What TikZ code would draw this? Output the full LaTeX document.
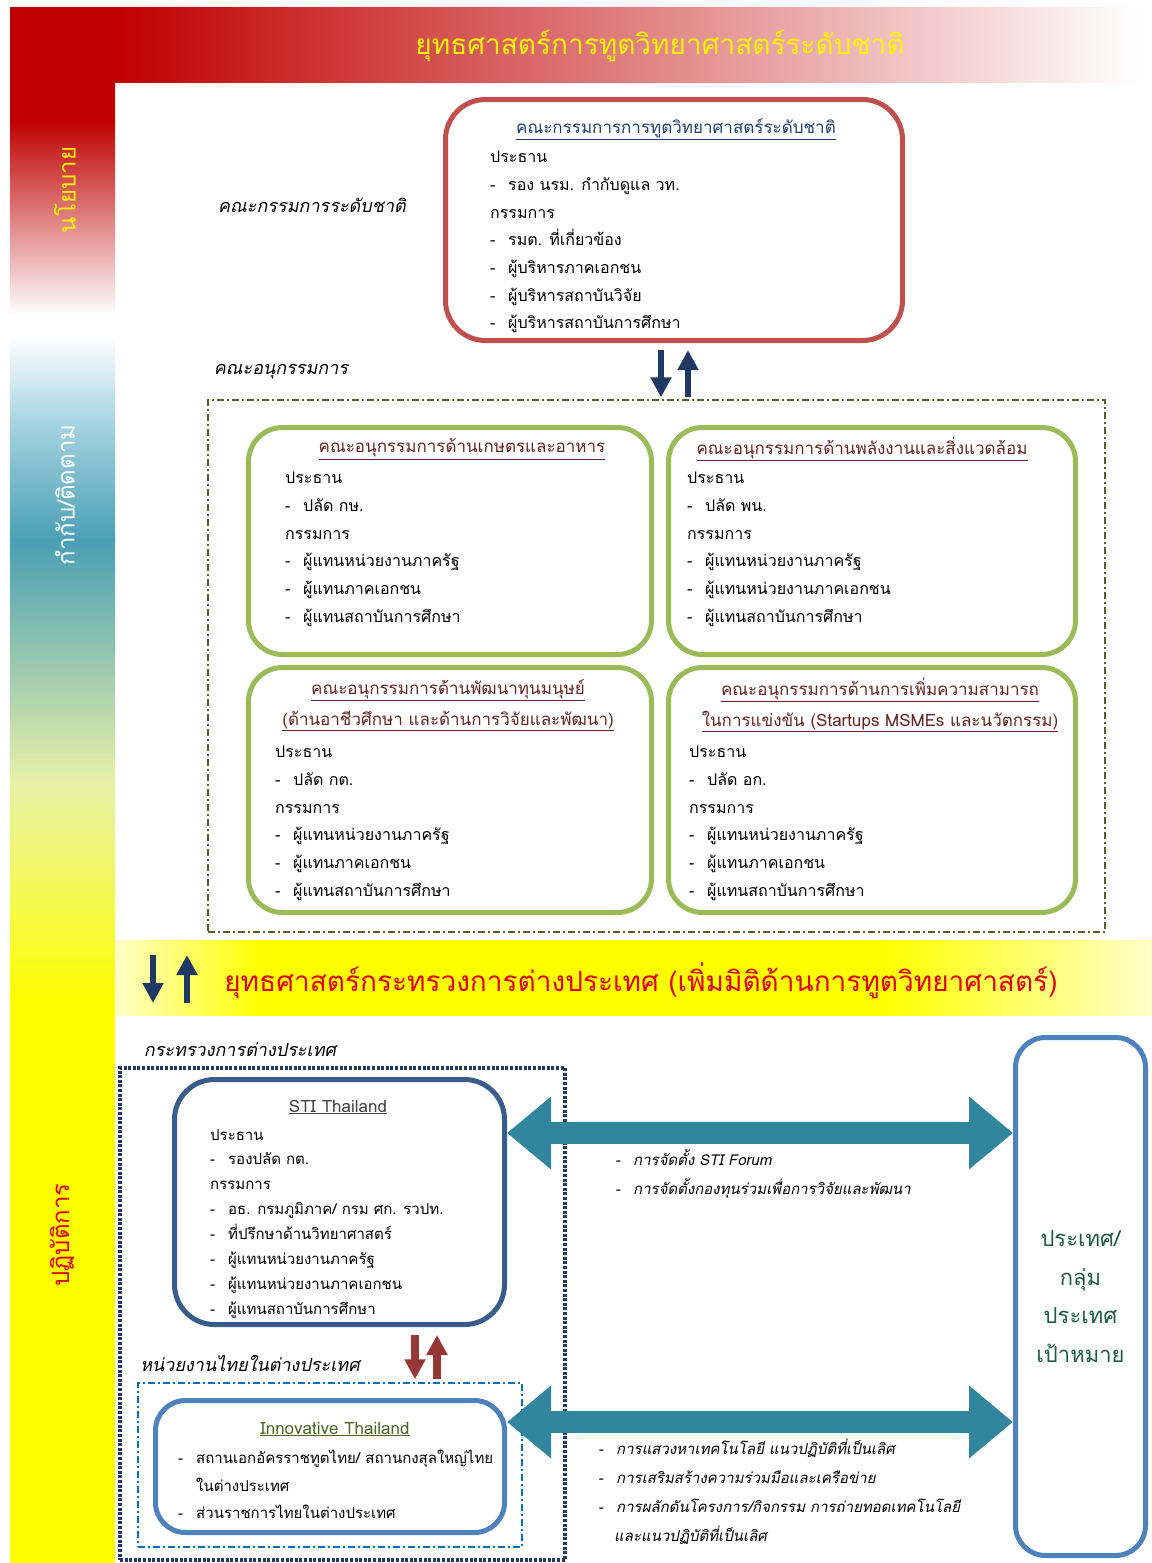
\documentclass[tikz,border=0pt]{standalone}
\usepackage{fontspec}
\setmainfont{Loma}[Script=Thai]
\newfontfamily\thaiit[Script=Thai,FakeSlant=0.2]{Loma}
\usetikzlibrary{arrows.meta,positioning,calc}

\definecolor{barred}{HTML}{C00000}
\definecolor{sideblue}{HTML}{A8D5E2}
\definecolor{sideteal}{HTML}{4A9FB5}
\definecolor{sidepale}{HTML}{E6F0A8}
\definecolor{bandpale}{HTML}{FFFFC8}
\definecolor{bandred}{HTML}{E00000}
\definecolor{boxred}{HTML}{C0504D}
\definecolor{boxgreen}{HTML}{9BBB59}
\definecolor{boxnavy}{HTML}{385D8A}
\definecolor{boxblue}{HTML}{4F81BD}
\definecolor{arrownavy}{HTML}{1F3864}
\definecolor{arrowred}{HTML}{953735}
\definecolor{arrowteal}{HTML}{31859C}
\definecolor{olivedash}{HTML}{4F6228}
\definecolor{dashblue}{HTML}{0070C0}
\definecolor{ttlblue}{HTML}{1F3F6F}
\definecolor{ttlred}{HTML}{632523}
\definecolor{ttlgray}{HTML}{404040}
\definecolor{goalgreen}{HTML}{1D5B47}

\newcommand{\itm}{\makebox[18pt][l]{-}}

\begin{document}
\begin{tikzpicture}[x=1pt, y=-1pt,
    box/.style={draw, line width=5pt, inner sep=0pt},
    redbox/.style={box, draw=boxred, rounded corners=40pt},
    greenbox/.style={box, draw=boxgreen, rounded corners=34pt},
    navybox/.style={box, draw=boxnavy, rounded corners=40pt},
    bluebox/.style={box, draw=boxblue, rounded corners=30pt},
    olivebox/.style={draw=olivedash, line width=1.4pt, dash pattern=on 7pt off 3pt on 2pt off 3pt, inner sep=0pt},
    abroadbox/.style={draw=dashblue, line width=1.4pt, dash pattern=on 7pt off 3pt on 2pt off 3pt, inner sep=0pt},
    ttl/.style={align=center, font=\fontsize{17}{31}\selectfont},
    body/.style={anchor=north west, align=left, inner sep=0pt, font=\fontsize{16}{27.7}\selectfont},
    lbl/.style={font=\thaiit\fontsize{18}{22}\selectfont},
    note/.style={anchor=north west, align=left, inner sep=0pt, font=\thaiit\fontsize{15}{29}\selectfont},
    side/.style={rotate=90, font=\fontsize{24}{26}\selectfont},
    updown/.style={line width=6pt, -{Triangle[length=20pt,width=20pt]}},
    bigarrow/.style={draw=arrowteal, line width=22pt, {Triangle[length=44pt,width=70pt]}-{Triangle[length=44pt,width=70pt]}}
]
\useasboundingbox (0,0) rectangle (1151,1563);

% colour bands
\foreach \ya/\yb/\ca/\cb in {8/120/barred/barred, 120/315/barred/white, 315/335/white/white, 335/420/white/sideblue, 420/540/sideblue/sideteal, 540/780/sideteal/sidepale, 780/1000/sidepale/yellow, 1000/1563/yellow/yellow}
    \shade[top color=\ca, bottom color=\cb] (10,\ya) rectangle (115,\yb+1);
\shade[left color=barred, right color=white] (114,8) rectangle (1140,82);
\foreach \xa/\xb/\ca/\cb in {115/260/bandpale/yellow, 260/880/yellow/yellow, 880/1151/yellow/bandpale}
    \shade[left color=\ca, right color=\cb] (\xa,940) rectangle (\xb+1,1015);

\node[side, text=yellow] (sidepolicy) at (65,190) {นโยบาย};
\node[side, text=white] (sidemonitor) at (65,495) {กำกับ/ติดตาม};
\node[side, text=bandred] (sideaction) at (62,1235) {ปฏิบัติการ};
\node[text=yellow, font=\fontsize{28}{30}\selectfont] (bannerttl) at (660,46) {ยุทธศาสตร์การทูตวิทยาศาสตร์ระดับชาติ};

% national committee
\node[lbl] (lblnatl) at (312,205) {คณะกรรมการระดับชาติ};
\node[redbox, minimum width=457pt, minimum height=241pt] (natl) at (674,220) {};
\node[ttl, text=ttlblue] (natlttl) at (676,129) {\underline{คณะกรรมการการทูตวิทยาศาสตร์ระดับชาติ}};
\node[body] (natlbody) at (490,151) {ประธาน\\\itm รอง นรม. กำกับดูแล วท.\\กรรมการ\\\itm รมต. ที่เกี่ยวข้อง\\\itm ผู้บริหารภาคเอกชน\\\itm ผู้บริหารสถาบันวิจัย\\\itm ผู้บริหารสถาบันการศึกษา};

% sub-committees
\node[lbl] (lblsub) at (281,372) {คณะอนุกรรมการ};
\node[olivebox, minimum width=897pt, minimum height=532pt] (sub) at (656.5,666) {};
\draw[updown, arrownavy, shorten <=7pt, shorten >=2pt] ([xshift=-13pt]natl.south) -- ([xshift=-13pt]natl.south |- sub.north);
\draw[updown, arrownavy, shorten <=2pt, shorten >=7pt] ([xshift=14pt]natl.south |- sub.north) -- ([xshift=14pt]natl.south);

\node[greenbox, minimum width=403pt, minimum height=227pt] (agri) at (450,541) {};
\node[ttl, text=ttlred] (agrittl) at (462,449) {\underline{คณะอนุกรรมการด้านเกษตรและอาหาร}};
\node[body] (agribody) at (285,472) {ประธาน\\\itm ปลัด กษ.\\กรรมการ\\\itm ผู้แทนหน่วยงานภาครัฐ\\\itm ผู้แทนภาคเอกชน\\\itm ผู้แทนสถาบันการศึกษา};

\node[greenbox, minimum width=407pt, minimum height=227pt] (energy) at (872,541) {};
\node[ttl, text=ttlred] (energyttl) at (862,449) {\underline{คณะอนุกรรมการด้านพลังงานและสิ่งแวดล้อม}};
\node[body] (energybody) at (687,472) {ประธาน\\\itm ปลัด พน.\\กรรมการ\\\itm ผู้แทนหน่วยงานภาครัฐ\\\itm ผู้แทนหน่วยงานภาคเอกชน\\\itm ผู้แทนสถาบันการศึกษา};

\node[greenbox, minimum width=403pt, minimum height=245pt] (human) at (450,790) {};
\node[ttl, text=ttlred] (humanttl) at (448,705) {\underline{คณะอนุกรรมการด้านพัฒนาทุนมนุษย์}\\\underline{(ด้านอาชีวศึกษา และด้านการวิจัยและพัฒนา)}};
\node[body] (humanbody) at (275,746) {ประธาน\\\itm ปลัด กต.\\กรรมการ\\\itm ผู้แทนหน่วยงานภาครัฐ\\\itm ผู้แทนภาคเอกชน\\\itm ผู้แทนสถาบันการศึกษา};

\node[greenbox, minimum width=407pt, minimum height=245pt] (compete) at (872,790) {};
\node[ttl, text=ttlred] (competettl) at (880,705) {\underline{คณะอนุกรรมการด้านการเพิ่มความสามารถ}\\\underline{ในการแข่งขัน (Startups MSMEs และนวัตกรรม)}};
\node[body] (competebody) at (689,746) {ประธาน\\\itm ปลัด อก.\\กรรมการ\\\itm ผู้แทนหน่วยงานภาครัฐ\\\itm ผู้แทนภาคเอกชน\\\itm ผู้แทนสถาบันการศึกษา};

% ministry band
\node[text=bandred, font=\fontsize{28}{30}\selectfont] (bandttl) at (641,981) {ยุทธศาสตร์กระทรวงการต่างประเทศ (เพิ่มมิติด้านการทูตวิทยาศาสตร์)};
\coordinate (bandhi) at (170,955);
\coordinate (bandlo) at (170,1003);
\draw[updown, arrownavy] ([xshift=-17pt]bandhi) -- ([xshift=-17pt]bandlo);
\draw[updown, arrownavy] ([xshift=17pt]bandlo) -- ([xshift=17pt]bandhi);

% operations
\node[lbl] (lblmfa) at (240,1050) {กระทรวงการต่างประเทศ};
\node[draw=arrownavy, line width=3.5pt, dash pattern=on 3pt off 1.6pt, inner sep=0pt, minimum width=445pt, minimum height=492pt] (mfa) at (342.5,1314) {};
\node[navybox, minimum width=330pt, minimum height=245pt] (sti) at (339.5,1202) {};
\node[ttl, text=ttlgray] (stittl) at (338,1107) {\underline{STI Thailand}};
\node[body, font=\fontsize{15}{24.9}\selectfont] (stibody) at (210,1129) {ประธาน\\\itm รองปลัด กต.\\กรรมการ\\\itm อธ. กรมภูมิภาค/ กรม ศก. รวปท.\\\itm ที่ปรึกษาด้านวิทยาศาสตร์\\\itm ผู้แทนหน่วยงานภาครัฐ\\\itm ผู้แทนหน่วยงานภาคเอกชน\\\itm ผู้แทนสถาบันการศึกษา};

\node[lbl] (lblabroad) at (250,1363) {หน่วยงานไทยในต่างประเทศ};
\node[abroadbox, minimum width=384pt, minimum height=164pt] (abroad) at (330,1465) {};
\draw[updown, arrowred, line width=8pt, shorten <=8pt, shorten >=3pt] ([xshift=75.5pt]sti.south) -- ([xshift=75.5pt]sti.south |- abroad.north);
\draw[updown, arrowred, line width=8pt, shorten <=3pt, shorten >=8pt] ([xshift=97.5pt]sti.south |- abroad.north) -- ([xshift=97.5pt]sti.south);

\node[bluebox, minimum width=349pt, minimum height=132pt] (inno) at (330,1466.5) {};
\node[ttl, text=olivedash] (innottl) at (335,1429) {\underline{Innovative Thailand}};
\node[body, font=\fontsize{15}{27.5}\selectfont] (innobody) at (178,1450) {\itm สถานเอกอัครราชทูตไทย/ สถานกงสุลใหญ่ไทย\\\hspace*{18pt}ในต่างประเทศ\\\itm ส่วนราชการไทยในต่างประเทศ};

\node[bluebox, minimum width=130pt, minimum height=518pt, align=center, text=goalgreen, font=\fontsize{22}{38.5}\selectfont] (target) at (1080.5,1296.5) {ประเทศ/\\กลุ่ม\\ประเทศ\\เป้าหมาย};

\draw[bigarrow] ([yshift=69pt]sti.east) -- ([yshift=69pt]sti.east -| target.west);
\draw[bigarrow] ([yshift=44.5pt]inno.east) -- ([yshift=44.5pt]inno.east -| target.west);

\node[note] (notesti) at (615,1149) {\itm การจัดตั้ง STI Forum\\\itm การจัดตั้งกองทุนร่วมเพื่อการวิจัยและพัฒนา};
\node[note] (noteinno) at (598,1439) {\itm การแสวงหาเทคโนโลยี แนวปฏิบัติที่เป็นเลิศ\\\itm การเสริมสร้างความร่วมมือและเครือข่าย\\\itm การผลักดันโครงการ/กิจกรรม การถ่ายทอดเทคโนโลยี\\\hspace*{16pt}และแนวปฏิบัติที่เป็นเลิศ};
\end{tikzpicture}
\end{document}
